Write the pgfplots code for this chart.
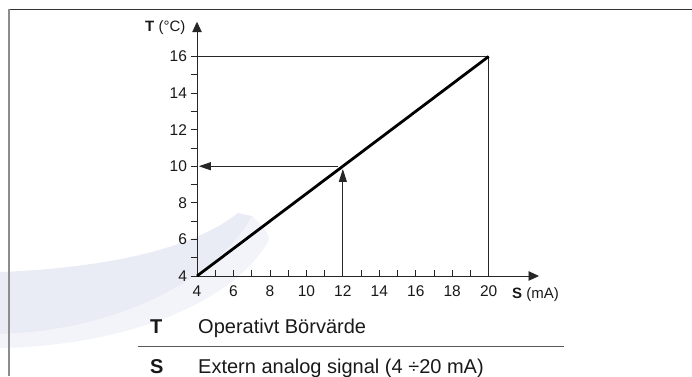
\documentclass[border=0pt]{standalone}
\usepackage{pgfplots}
\pgfplotsset{compat=1.18}
\usepackage{fontspec}
\setmainfont{Liberation Sans}
\usetikzlibrary{arrows.meta}
\definecolor{wm}{RGB}{233,236,244}
\definecolor{wm2}{RGB}{243,244,249}
\definecolor{ink}{RGB}{25,25,25}
\begin{document}
\begin{tikzpicture}[x=1pt,y=1pt]
\useasboundingbox (0,0) rectangle (692,376);
\clip (0,0) rectangle (692,376);
% faint watermark swoosh
\fill[wm2] (252,160) .. controls (262,150) and (272,142) .. (268,134) .. controls (230,70) and (120,30) .. (0,28) -- (0,42) .. controls (120,45) and (220,100) .. (252,160) -- cycle;
\fill[wm] (0,104) .. controls (100,108) and (190,125) .. (238,163) -- (252,160) .. controls (220,100) and (120,45) .. (0,42) -- cycle;
% frame
\draw[line width=1.3pt, black!80] (8,366.5) -- (692,366.5);
\draw[line width=2.2pt, black!45] (8.7,367) -- (8.7,0);
\begin{axis}[
  at={(197pt,100pt)}, anchor=south west, scale only axis,
  width=342pt, height=254.3pt,
  xmin=4, xmax=22.76, ymin=4, ymax=17.9,
  axis lines=left,
  axis line style={line width=0.9pt, black!85, -{Triangle[length=10.5pt,width=9.5pt]}},
  xtick={4,6,...,20}, ytick={4,6,...,16},
  minor xtick={5,7,...,19}, minor ytick={5,7,...,15},
  tick align=outside,
  major tick length=6.5pt, minor tick length=6.5pt,
  tick style={line width=0.8pt, black!85},
  x tick style={yshift=6.5pt},
  ticklabel style={font=\fontsize{15.5}{17}\selectfont, text=ink},
  /pgf/number format/assume math mode=true,
  clip=false,
]
\addplot[line width=0.9pt, black!85] coordinates {(4,16) (20,16) (20,4)};
\addplot[line width=0.9pt, black!85, -{Triangle[length=13pt,width=8pt]}] coordinates {(12,4) (12,9.85)};
\addplot[line width=0.9pt, black!85, -{Triangle[length=12pt,width=8pt]}] coordinates {(11.75,10) (4.1,10)};
\addplot[line width=2.8pt, black] coordinates {(4,4) (20,16)};
\node[anchor=base west, inner sep=0pt, text=ink] at (rel axis cs:1,0) [xshift=-27pt, yshift=-22pt] {\fontsize{15}{17}\selectfont\textbf{S} (mA)};
\node[anchor=base west, inner sep=0pt, text=ink] at (rel axis cs:0,1) [xshift=-52pt, yshift=-10pt] {\fontsize{15}{17}\selectfont\textbf{T} (°C)};
\end{axis}
% legend
\node[anchor=base west, inner sep=0pt, text=ink, font=\fontsize{20}{24}\selectfont] at (150,43) {\textbf{T}};
\node[anchor=base west, inner sep=0pt, text=ink, font=\fontsize{20}{24}\selectfont] at (198,43) {Operativt Börvärde};
\draw[line width=1pt, black!65] (138,30) -- (564,30);
\node[anchor=base west, inner sep=0pt, text=ink, font=\fontsize{20}{24}\selectfont] at (150,3) {\textbf{S}};
\node[anchor=base west, inner sep=0pt, text=ink, font=\fontsize{20}{24}\selectfont] at (198,3) {Extern analog signal (4 ÷20 mA)};
\end{tikzpicture}
\end{document}
